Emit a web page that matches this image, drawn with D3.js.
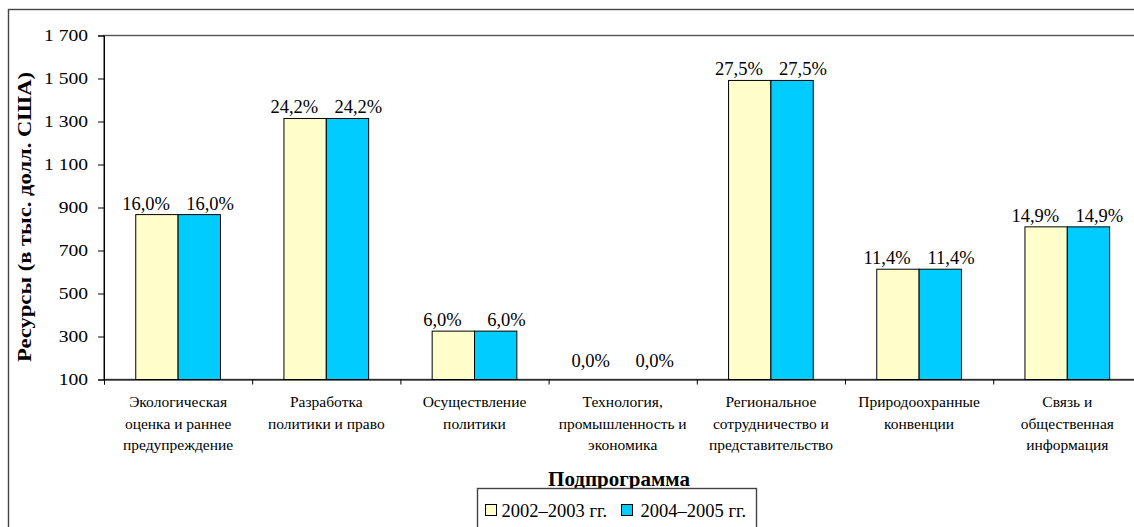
<!DOCTYPE html>
<html><head><meta charset="utf-8">
<script src="https://cdn.jsdelivr.net/npm/d3@7"></script>
<style>
html,body{margin:0;padding:0;background:#fff;}
svg{display:block;}
text{font-family:"Liberation Serif","Times New Roman",serif;fill:#000;}
</style></head>
<body>
<svg id="chart" width="1134" height="527"></svg>
<script>
const categories = [
  ["Экологическая","оценка и раннее","предупреждение"],
  ["Разработка","политики и право"],
  ["Осуществление","политики"],
  ["Технология,","промышленность и","экономика"],
  ["Региональное","сотрудничество и","представительство"],
  ["Природоохранные","конвенции"],
  ["Связь и","общественная","информация"]
];
const seriesNames = ["2002–2003 гг.", "2004–2005 гг."];
const values2002 = [867, 1314, 325, 0, 1491, 613, 810];
const values2004 = [867, 1314, 325, 0, 1491, 613, 810];
const pct2002 = [16.0, 24.2, 6.0, 0.0, 27.5, 11.4, 14.9];
const pct2004 = [16.0, 24.2, 6.0, 0.0, 27.5, 11.4, 14.9];
const yTicks = [100, 300, 500, 700, 900, 1100, 1300, 1500, 1700];
const colors = ["#FFFFCC", "#00CCFF"];

(function() {
const FONT = "'Liberation Serif', 'Times New Roman', serif";
const svg = d3.select("#chart");
const ru = d3.formatLocale({decimal: ",", thousands: "\u00a0", grouping: [3], currency: ["", ""]});
const fmtTick = ru.format(",d");
const fmtPct = ru.format(".1f");

const pLeft = 104, pTop = 35.5, pBottom = 379.5, catW = 148.2;
const pRight = pLeft + catW * categories.length;

// outer border (cropped on right/bottom)
svg.append("rect").attr("x", 8.5).attr("y", 9.5).attr("width", 1200).attr("height", 600)
  .attr("fill", "none").attr("stroke", "#444").attr("stroke-width", 1.4);
// plot area border
svg.append("rect").attr("x", pLeft).attr("y", pTop).attr("width", pRight - pLeft + 20).attr("height", pBottom - pTop)
  .attr("fill", "none").attr("stroke", "#555").attr("stroke-width", 1.4);

const idx = d3.range(categories.length);
const x = d3.scaleBand().domain(idx).range([pLeft, pRight]).paddingInner(0).paddingOuter(0);
const groupW = x.bandwidth() * 2 / 3.5;
const xs = d3.scaleBand().domain([0, 1]).range([0, groupW]);
const y = d3.scaleLinear().domain([100, 1700]).range([pBottom, pTop]);

// bars
const series = [values2002, values2004];
const pcts = [pct2002, pct2004];
series.forEach((vals, s) => {
  svg.append("g").selectAll("rect").data(idx.filter(i => vals[i] > 100)).join("rect")
    .attr("x", i => x(i) + (x.bandwidth() - groupW) / 2 + xs(s))
    .attr("y", i => y(vals[i]))
    .attr("width", xs.bandwidth())
    .attr("height", i => y(100) - y(vals[i]))
    .attr("fill", colors[s]).attr("stroke", "#000").attr("stroke-width", 1);
});

// value labels
series.forEach((vals, s) => {
  svg.append("g").selectAll("text").data(idx).join("text")
    .attr("x", i => x(i) + x.bandwidth() / 2 + (s === 0 ? -32 : 32))
    .attr("y", i => vals[i] > 100 ? y(vals[i]) - 5 : y(100) - 12.5)
    .attr("text-anchor", "middle")
    .style("font-family", FONT)
    .style("font-size", "18.5px")
    .text(i => fmtPct(pcts[s][i]) + "%");
});

// y axis
const yAxis = svg.append("g").attr("transform", `translate(${pLeft},0)`)
  .call(d3.axisLeft(y).tickValues(yTicks).tickSize(6).tickPadding(10).tickFormat(fmtTick));
yAxis.select(".domain").attr("stroke", "#000");
yAxis.selectAll(".tick line").attr("stroke", "#000");
yAxis.selectAll(".tick text").style("font-size", "17px").style("font-family", FONT).attr("dy", "0.3em")
  .each(function() {
    const w = this.getComputedTextLength();
    d3.select(this).attr("textLength", w * 1.15).attr("lengthAdjust", "spacingAndGlyphs");
  });

// x axis (ticks between categories)
const xl = d3.scaleLinear().domain([0, categories.length]).range([pLeft, pRight]);
const xAxis = svg.append("g").attr("transform", `translate(0,${pBottom})`)
  .call(d3.axisBottom(xl).tickValues(d3.range(categories.length + 1)).tickSize(5).tickFormat(""));
xAxis.select(".domain").attr("stroke", "#000");
xAxis.selectAll(".tick line").attr("stroke", "#000");

// category labels
const cl = svg.append("g").selectAll("text").data(idx).join("text")
  .attr("text-anchor", "middle").style("font-family", FONT).style("font-size", "15.5px");
cl.each(function(i) {
  const t = d3.select(this);
  categories[i].forEach((line, k) => {
    t.append("tspan").attr("x", x(i) + x.bandwidth() / 2).attr("y", 407 + k * 21.5).text(line);
  });
});

// axis titles
svg.append("text").attr("x", 0).attr("y", 0)
  .attr("transform", "translate(31,217) rotate(-90)")
  .attr("text-anchor", "middle").style("font-family", FONT)
  .style("font-size", "18px").style("font-weight", "bold")
  .attr("textLength", 290).attr("lengthAdjust", "spacingAndGlyphs")
  .text("Ресурсы (в тыс. долл. США)");
svg.append("text").attr("x", 619).attr("y", 486).attr("text-anchor", "middle")
  .style("font-family", FONT)
  .style("font-size", "21px").style("font-weight", "bold").text("Подпрограмма");

// legend
const lg = svg.append("g");
lg.append("rect").attr("x", 477.5).attr("y", 488.5).attr("width", 279).attr("height", 60)
  .attr("fill", "#fff").attr("stroke", "#444").attr("stroke-width", 1.4);
const legX = [485, 621], legTX = [501.5, 640.5];
seriesNames.forEach((n, s) => {
  lg.append("rect").attr("x", legX[s] + 0.5).attr("y", 504.5).attr("width", 11).attr("height", 11)
    .attr("fill", colors[s]).attr("stroke", "#000").attr("stroke-width", 1);
  lg.append("text").attr("x", legTX[s]).attr("y", 517).style("font-family", FONT)
    .style("font-size", "18.5px").text(n);
});
})();
</script>
</body></html>
